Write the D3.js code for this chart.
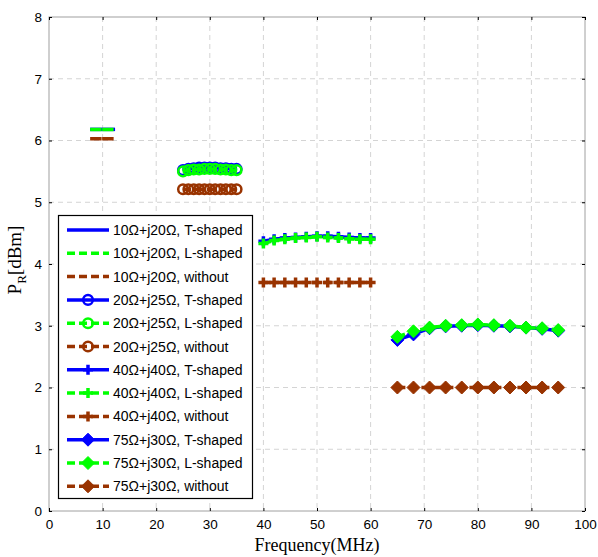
<!DOCTYPE html>
<html>
<head>
<meta charset="utf-8">
<script src="https://cdn.jsdelivr.net/npm/d3@7/dist/d3.min.js"></script>
<style>
  html, body { margin: 0; padding: 0; background: #fff; }
  svg { display: block; }
</style>
</head>
<body>
<svg id="chart" width="598" height="557"></svg>
<script>
// Frequency points (MHz) for each load impedance
const freqA = [8, 9, 10, 11, 12];
const freqB = [25, 26, 27, 28, 29, 30, 31, 32, 33, 34, 35];
const freqC = [40, 42, 44, 46, 48, 50, 52, 54, 56, 58, 60];
const freqD = [65, 68, 71, 74, 77, 80, 83, 86, 89, 92, 95];

// Received power P_R (dBm)
const a_T = [6.18, 6.18, 6.18, 6.18, 6.18];
const a_L = [6.18, 6.18, 6.18, 6.18, 6.18];
const a_W = [6.03, 6.03, 6.03, 6.03, 6.03];

const b_T = [5.52, 5.54, 5.55, 5.56, 5.56, 5.56, 5.56, 5.55, 5.55, 5.54, 5.54];
const b_L = [5.50, 5.52, 5.53, 5.53, 5.54, 5.54, 5.54, 5.53, 5.53, 5.52, 5.52];
const b_W = [5.21, 5.21, 5.21, 5.21, 5.21, 5.21, 5.21, 5.21, 5.21, 5.21, 5.21];

const c_T = [4.37, 4.40, 4.42, 4.43, 4.44, 4.45, 4.45, 4.44, 4.43, 4.42, 4.42];
const c_L = [4.33, 4.38, 4.40, 4.42, 4.43, 4.44, 4.43, 4.42, 4.41, 4.40, 4.40];
const c_W = [3.70, 3.70, 3.70, 3.70, 3.70, 3.70, 3.70, 3.70, 3.70, 3.70, 3.70];

const d_T = [2.77, 2.86, 2.96, 2.99, 3.00, 3.01, 3.00, 2.99, 2.97, 2.95, 2.92];
const d_L = [2.82, 2.91, 2.97, 3.00, 3.01, 3.02, 3.01, 3.00, 2.97, 2.96, 2.93];
const d_W = [2.00, 2.00, 2.00, 2.00, 2.00, 2.00, 2.00, 2.00, 2.00, 2.00, 2.00];

const loadLabels = ["10Ω+j20Ω", "20Ω+j25Ω", "40Ω+j40Ω", "75Ω+j30Ω"];
const matchLabels = ["T-shaped", "L-shaped", "without"];

const xTicks = [0, 10, 20, 30, 40, 50, 60, 70, 80, 90, 100];
const yTicks = [0, 1, 2, 3, 4, 5, 6, 7, 8];

const BLUE = "#0000ff", GREEN = "#00ff00", BROWN = "#993300";
const styles = [
  { color: BLUE, dash: null },
  { color: GREEN, dash: "8,4" },
  { color: BROWN, dash: "8,4" }
];
const markers = [null, "circle", "plus", "diamond"];

const groups = [
  { x: freqA, ys: [a_T, a_L, a_W] },
  { x: freqB, ys: [b_T, b_L, b_W] },
  { x: freqC, ys: [c_T, c_L, c_W] },
  { x: freqD, ys: [d_T, d_L, d_W] }
];

const svg = d3.select("#chart");
const pLeft = 49, pTop = 17, pRight = 585, pBottom = 511;

const x = d3.scaleLinear().domain([0, 100]).range([pLeft, pRight]);
const y = d3.scaleLinear().domain([0, 8]).range([pBottom, pTop]);

// grid
const grid = svg.append("g");
grid.selectAll("line.gx").data(xTicks.slice(1, -1)).join("line")
  .attr("x1", d => x(d)).attr("x2", d => x(d))
  .attr("y1", pTop).attr("y2", pBottom)
  .attr("stroke", "#d4d4d4").attr("stroke-dasharray", "5,4");
grid.selectAll("line.gy").data(yTicks.slice(1, -1)).join("line")
  .attr("y1", d => y(d)).attr("y2", d => y(d))
  .attr("x1", pLeft).attr("x2", pRight)
  .attr("stroke", "#d4d4d4").attr("stroke-dasharray", "5,4");

// frame
svg.append("rect")
  .attr("x", pLeft).attr("y", pTop)
  .attr("width", pRight - pLeft).attr("height", pBottom - pTop)
  .attr("fill", "none").attr("stroke", "#a0a0a0");

// axes with inward ticks on all sides
const tickFont = "Liberation Sans, Arial, sans-serif";
function styleAxis(g) {
  g.select(".domain").remove();
  g.selectAll(".tick line").attr("stroke", "#000");
  g.selectAll(".tick text").attr("font-family", tickFont).attr("font-size", 13.5).attr("fill", "#000");
}
svg.append("g").attr("transform", `translate(0,${pBottom})`)
  .call(d3.axisBottom(x).tickValues(xTicks).tickSizeInner(-3).tickSizeOuter(0).tickPadding(8))
  .call(styleAxis);
svg.append("g").attr("transform", `translate(0,${pTop})`)
  .call(d3.axisTop(x).tickValues(xTicks).tickSizeInner(-3).tickSizeOuter(0).tickFormat(""))
  .call(styleAxis);
svg.append("g").attr("transform", `translate(${pLeft},0)`)
  .call(d3.axisLeft(y).tickValues(yTicks).tickSizeInner(-3).tickSizeOuter(0).tickPadding(7))
  .call(styleAxis);
svg.append("g").attr("transform", `translate(${pRight},0)`)
  .call(d3.axisRight(y).tickValues(yTicks).tickSizeInner(-3).tickSizeOuter(0).tickFormat(""))
  .call(styleAxis);

// axis titles
svg.append("text")
  .attr("x", (pLeft + pRight) / 2).attr("y", 551)
  .attr("text-anchor", "middle")
  .attr("font-family", "'Liberation Serif', 'Times New Roman', serif").attr("font-size", 18)
  .text("Frequency(MHz)");
const yl = svg.append("text")
  .attr("transform", `translate(21,${(pTop + pBottom) / 2 - 4}) rotate(-90)`)
  .attr("text-anchor", "middle")
  .attr("font-family", "'Liberation Serif', 'Times New Roman', serif").attr("font-size", 19);
yl.append("tspan").text("P");
yl.append("tspan").attr("font-size", 13).attr("dy", 5).text("R");
yl.append("tspan").attr("dy", -5).text("[dBm]");

// marker drawing
function drawMarker(g, type, color, cx, cy) {
  if (type === "circle") {
    g.append("circle").attr("cx", cx).attr("cy", cy).attr("r", 4.8)
      .attr("fill", "none").attr("stroke", color).attr("stroke-width", 2.5);
  } else if (type === "plus") {
    g.append("path")
      .attr("d", `M${cx - 5},${cy}H${cx + 5}M${cx},${cy - 5}V${cy + 5}`)
      .attr("stroke", color).attr("stroke-width", 3.5).attr("fill", "none");
  } else if (type === "diamond") {
    g.append("path")
      .attr("d", `M${cx},${cy - 6.5}L${cx + 6.5},${cy}L${cx},${cy + 6.5}L${cx - 6.5},${cy}Z`)
      .attr("fill", color).attr("stroke", color).attr("stroke-width", 1);
  }
}

const line = d3.line().x(d => x(d[0])).y(d => y(d[1]));
const plot = svg.append("g");
groups.forEach((grp, gi) => {
  grp.ys.forEach((vals, si) => {
    const st = styles[si];
    const pts = grp.x.map((fx, i) => [fx, vals[i]]);
    const g = plot.append("g");
    g.append("path").attr("d", line(pts))
      .attr("fill", "none").attr("stroke", st.color).attr("stroke-width", 3.5)
      .attr("stroke-dasharray", st.dash)
      .attr("stroke-linecap", gi === 0 ? "square" : "butt");
    if (markers[gi]) pts.forEach(p => drawMarker(g, markers[gi], st.color, x(p[0]), y(p[1])));
  });
});

// legend
const lg = svg.append("g");
lg.append("rect").attr("x", 58.5).attr("y", 215.5).attr("width", 194).attr("height", 283)
  .attr("fill", "#fff").attr("stroke", "#000").attr("stroke-width", 1.2);
let row = 0;
loadLabels.forEach((ll, gi) => {
  matchLabels.forEach((ml, si) => {
    const st = styles[si];
    const cy = 230 + row * 23.3;
    lg.append("line").attr("x1", 67).attr("x2", 109).attr("y1", cy).attr("y2", cy)
      .attr("stroke", st.color).attr("stroke-width", 3.5).attr("stroke-dasharray", st.dash);
    if (markers[gi]) drawMarker(lg, markers[gi], st.color, 88, cy);
    lg.append("text").attr("x", 113).attr("y", cy + 5)
      .attr("font-family", tickFont).attr("font-size", 14)
      .text(`${ll}, ${ml}`);
    row++;
  });
});
</script>
</body>
</html>
